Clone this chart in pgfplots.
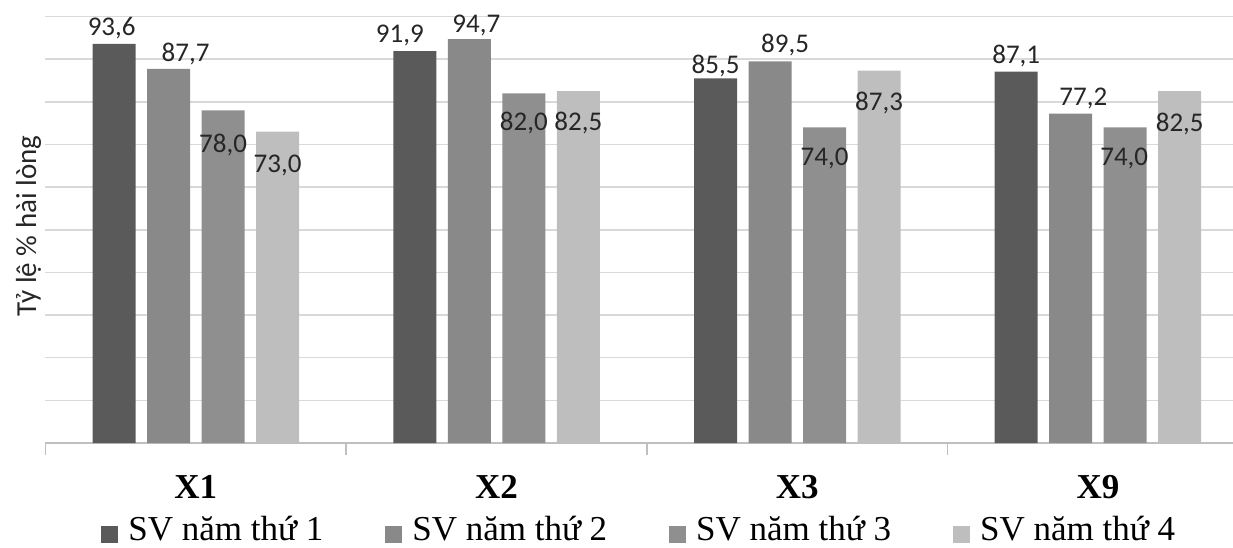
\documentclass[border=0pt]{standalone}
\usepackage{fontspec}
\setmainfont{Liberation Serif}
\newfontfamily\carlito{Carlito}
\usepackage{pgfplots}
\usepackage{pgfplotstable}
\pgfplotsset{compat=1.18}

\definecolor{cA}{HTML}{5A5A5A}
\definecolor{cB}{HTML}{898989}
\definecolor{cC}{HTML}{8F8F8F}
\definecolor{cD}{HTML}{BEBEBE}
\definecolor{gridc}{HTML}{D9D9D9}
\definecolor{axisc}{HTML}{BFBFBF}
\definecolor{txt}{HTML}{262626}

% x: 0=X1 1=X2 2=X3 3=X9 ; dx dy = shift of the value label in pt
\pgfplotstableread{
x y dx dy
0 93.6 -1.2 7.8
1 91.9 -7.5 8.0
2 85.5 0 6.0
3 87.1 0 7.8
}\namA
\pgfplotstableread{
x y dx dy
0 87.7 8.5 7.4
1 94.7 3.5 7.0
2 89.5 7.5 8.0
3 77.2 6.3 7.8
}\namB
\pgfplotstableread{
x y dx dy
0 78.0 0 -17.5
1 82.0 0 -15
2 74.0 0 -15.5
3 74.0 -0.5 -15.5
}\namC
\pgfplotstableread{
x y dx dy
0 73.0 0 -17
1 82.5 0 -16
2 87.3 0 -16.3
3 82.5 0 -16.3
}\namD

\pgfplotsset{sq legend/.style={legend image code/.code={\fill[##1,draw=none] (0pt,-6.5pt) rectangle (8.5pt,2pt);}}}

\begin{document}
\begin{tikzpicture}
\begin{axis}[
  at={(0,0)}, anchor=south west,
  scale only axis,
  width=593.75pt, height=213.25pt,
  ybar=5.75pt, bar width=21.5pt,
  xmin=-0.5, xmax=3.449,
  ymin=0, ymax=100,
  xtick={0,1,2,3},
  xticklabels={X1,X2,X3,X9},
  minor xtick={-0.5,0.5,1.5,2.5},
  ytick={0,10,...,100},
  yticklabels={},
  ymajorgrids,
  grid style={gridc, line width=0.75pt},
  major tick length=0pt,
  minor tick length=6pt,
  xtick align=outside,
  minor x tick style={axisc, line width=0.75pt},
  separate axis lines,
  axis x line*=bottom,
  axis y line*=left,
  x axis line style={-, axisc, line width=0.75pt},
  y axis line style={draw=none},
  xticklabel style={font=\fontsize{17.5}{17.5}\selectfont\bfseries, anchor=base, yshift=-27.5pt},
  ylabel={Tỷ lệ \% hài lòng},
  every axis y label/.style={at={(axis description cs:0,0.5)}, xshift=-8.5pt, yshift=1.9pt, rotate=90, anchor=center, font=\carlito\fontsize{14.5}{14.5}\selectfont, text=txt},
  clip=false,
  nodes near coords,
  /pgf/number format/.cd, fixed, fixed zerofill, precision=1, use comma, assume math mode=true, /pgfplots/.cd,
  visualization depends on={\thisrow{dx} \as \mydx},
  visualization depends on={\thisrow{dy} \as \mydy},
  every node near coord/.append style={anchor=center, xshift=\mydx pt, yshift=\mydy pt, font=\carlito\fontsize{13.5}{13.5}\selectfont, text=txt},
  legend columns=4,
  legend style={at={(axis description cs:0.5,0)}, anchor=center, xshift=2pt, yshift=-43.5pt, draw=none, fill=none, font=\fontsize{17.5}{17.5}\selectfont,
    nodes={inner xsep=5pt},
    /tikz/every even column/.append style={column sep=26pt}},
]
\addplot[fill=cA, draw=none, sq legend] table[x=x, y=y] {\namA};
\addlegendentry{SV năm thứ 1}
\addplot[fill=cB, draw=none, sq legend] table[x=x, y=y] {\namB};
\addlegendentry{SV năm thứ 2}
\addplot[fill=cC, draw=none, sq legend] table[x=x, y=y] {\namC};
\addlegendentry{SV năm thứ 3}
\addplot[fill=cD, draw=none, sq legend] table[x=x, y=y] {\namD};
\addlegendentry{SV năm thứ 4}
\end{axis}
\pgfresetboundingbox
\path[use as bounding box] (-22.75pt,-52pt) rectangle (593.75pt,221.5pt);
\end{tikzpicture}
\end{document}
